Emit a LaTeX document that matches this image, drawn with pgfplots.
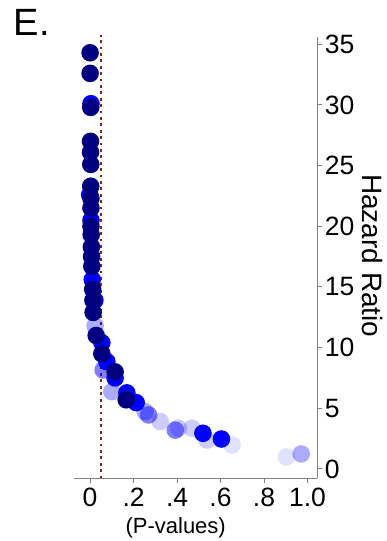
\documentclass[border=0pt]{standalone}
\usepackage{fontspec}
\setmainfont{Liberation Sans}
\usepackage{pgfplots}
\pgfplotsset{compat=1.18}
\definecolor{navyc}{RGB}{0,0,128}
\definecolor{bluec}{RGB}{0,0,255}
\definecolor{darkred}{RGB}{125,40,40}
\begin{document}
\begin{tikzpicture}
\useasboundingbox (-74pt,-62.7pt) rectangle (313pt,478.3pt);
\begin{axis}[
  at={(0,0)}, anchor=south west,
  scale only axis, width=243.3pt, height=441.3pt,
  xmin=-0.074, xmax=1.045, ymin=-0.77, ymax=35.6,
  axis x line*=bottom, axis y line*=right,
  axis line style={draw=gray, line width=1pt, -},
  xtick={0,0.2,0.4,0.6,0.8,1.0}, xticklabels={0,.2,.4,.6,.8,1.0},
  ytick={0,5,10,15,20,25,30,35}, yticklabels={0,5,10,15,20,25,30,35},
  tick align=outside, major tick length=5pt,
  tick style={draw=gray, line width=1pt},
  ticklabel style={font=\fontsize{26.5}{26.5}\selectfont, text=black},
  xticklabel style={yshift=-1pt},
  yticklabel style={xshift=-1pt},
  clip=false,
  title={E.},
  title style={at={(rel axis cs:-0.262,0.989)}, anchor=base west, font=\fontsize{38}{38}\selectfont},
  xlabel={(P-values)}, ylabel={Hazard Ratio},
  every axis x label/.style={at={(rel axis cs:0.418,-0.112)}, anchor=center, font=\fontsize{22}{22}\selectfont},
  every axis y label/.style={at={(rel axis cs:1.225,0.504)}, anchor=center, rotate=-90, font=\fontsize{28}{28}\selectfont},
  pts/.style={only marks, mark=*, mark size=8.8pt, color=#1, mark options={solid, draw opacity=0, line width=0pt}},
]
\addplot[draw=darkred, line width=2.8pt, dash pattern=on 2.8pt off 3.6pt] coordinates {(0.05,-0.77) (0.05,35.8)};
% lightest
\addplot[pts=bluec, fill opacity=0.12] coordinates {
(0.653,1.98) (0.903,0.99)
};
% light
\addplot[pts=bluec, fill opacity=0.2] coordinates {
(0.323,3.9) (0.469,3.36) (0.538,2.39) (0.406,3.36)
};
\addplot[pts=bluec, fill opacity=0.33] coordinates {
(0.023,11.8) (0.971,1.24) (0.1,6.37) (0.253,4.72)
};
\addplot[pts=bluec, fill opacity=0.5] coordinates {
(0.269,4.45) (0.392,3.2) (0.06,8.16)
};
% blue
\addplot[pts=bluec] coordinates {
(0.004,30.1) (-0.002,22.6) (0.004,20.5) (0.010,15.6) (0.022,13.9) (0.054,10.4) (0.077,8.85) (0.115,7.5) (0.169,6.27) (0.212,5.47) (0.519,2.94) (0.604,2.47)
};
% navy
\addplot[pts=navyc] coordinates {
(0.000,34.3) (0.000,32.6) (0.003,29.8) (0.002,27.0) (0.002,26.1) (0.003,25.1) (0.003,23.3) (0.004,22.3) (0.004,21.5) (0.004,20.0) (0.005,19.3) (0.006,18.3) (0.007,17.5) (0.008,16.7) (0.012,14.8) (0.013,13.9) (0.014,12.9) (0.028,11.0) (0.054,9.5) (0.115,8.0) (0.166,5.7)
};
\end{axis}
\end{tikzpicture}
\end{document}
